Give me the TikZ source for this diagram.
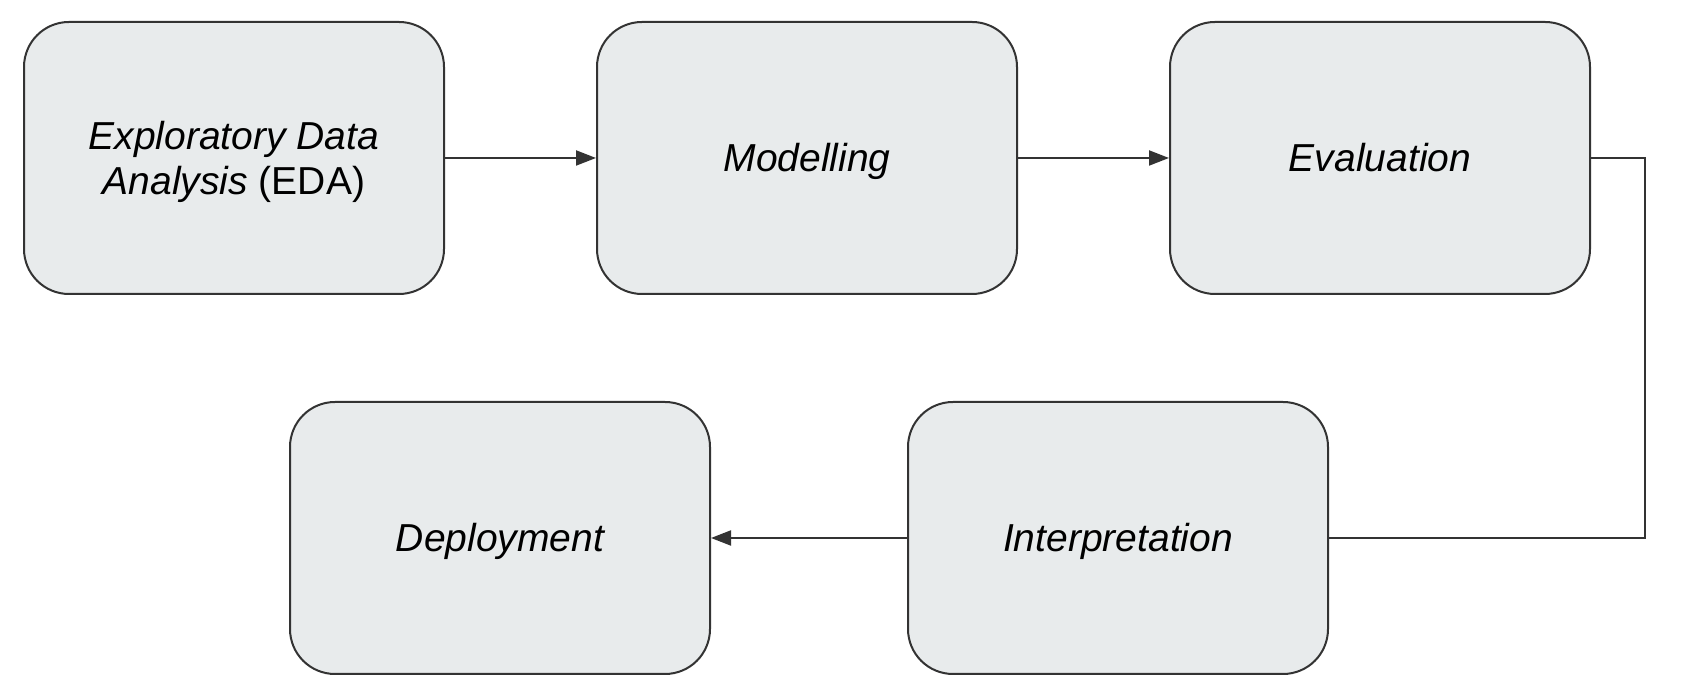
\documentclass[tikz,border=0pt]{standalone}
\usepackage{fontspec}
\setmainfont{Liberation Sans}
\usetikzlibrary{arrows.meta}
\usetikzlibrary{positioning}
\definecolor{mline}{rgb}{0.2, 0.2, 0.2}
\definecolor{mfill}{rgb}{0.91, 0.92, 0.925}
\tikzset{stage/.style = {draw = mline, fill = mfill, line width = 2, rounded corners = 45,
    minimum width = 420, minimum height = 272, align = center,
    font = \fontsize{39}{45}\selectfont\itshape}}
\tikzset{oneline/.style = {stage, text height = 28, text depth = 0}}
\tikzset{flow/.style = {draw = mline, line width = 2, -{Triangle[length = 20, width = 15]}}}
\tikzset{link/.style = {draw = mline, line width = 2}}

\begin{document}
\begin{tikzpicture}[x = 1pt, y = 1pt]
    \useasboundingbox (0, 0) rectangle (1692, 700);
    \node [stage, text depth = 0] (eda) at (234, 542) {Exploratory Data\\Analysis \textup{(EDA)}};
    \node [oneline] (model) at (807, 542) {Modelling};
    \node [oneline] (eval) at (1380, 542) {Evaluation};
    \node [oneline] (interp) at (1118, 162) {Interpretation};
    \node [oneline] (deploy) at (500, 162) {Deployment};
    \coordinate (bend) at (1645, 542);

    \draw [flow] (eda) -- (model);
    \draw [flow] (model) -- (eval);
    \draw [link] (eval.east) -- (bend) |- (interp.east);
    \draw [flow] (interp) -- (deploy);
  \end{tikzpicture}
\end{document}
